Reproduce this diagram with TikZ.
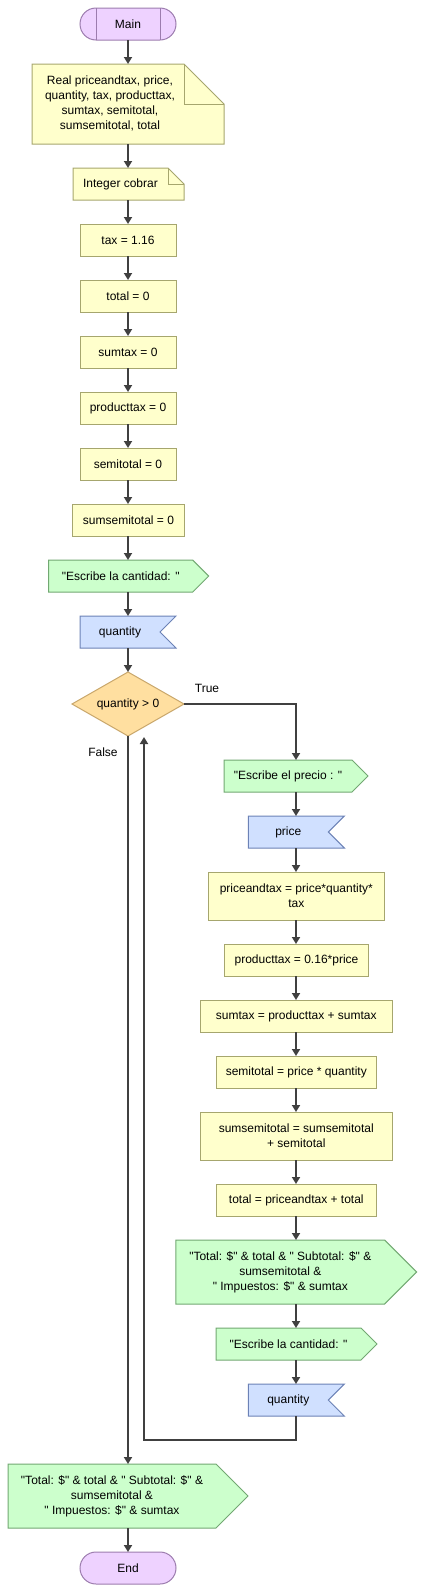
\documentclass[tikz,border=0pt]{standalone}
\usepackage{fontspec}
\setmainfont{Liberation Sans}[Ligatures=TeXOff]
\usetikzlibrary{shapes.geometric,arrows.meta}
\pgfdeclarelayer{bg}
\pgfsetlayers{bg,main}
\definecolor{termfill}{HTML}{EED2FF}
\definecolor{termdraw}{HTML}{9C7CAE}
\definecolor{procfill}{HTML}{FFFFCC}
\definecolor{procdraw}{HTML}{A6A66E}
\definecolor{outfill}{HTML}{CCFFCC}
\definecolor{outdraw}{HTML}{72A872}
\definecolor{infill}{HTML}{D0E0FF}
\definecolor{indraw}{HTML}{6C82B6}
\definecolor{decfill}{HTML}{FFDFA0}
\definecolor{decdraw}{HTML}{C8A66A}
\definecolor{linecol}{HTML}{404040}
\begin{document}
\begin{tikzpicture}[x=1pt,y=-1pt,
  every node/.style={font=\fontsize{12}{15}\selectfont, inner sep=0pt, outer sep=0pt, align=center},
  term/.style={draw=termdraw, fill=termfill, line width=1pt, rounded corners=16pt, minimum width=96pt, minimum height=32pt},
  proc/.style={draw=procdraw, fill=procfill, line width=1pt, minimum height=32pt},
  blank/.style={minimum height=32pt},
  decis/.style={diamond, draw=decdraw, fill=decfill, line width=1pt, minimum width=112pt, minimum height=64pt, aspect=1.75},
  notefill/.style={draw=procdraw, fill=procfill, line width=1pt, line join=miter},
  outshape/.style={draw=outdraw, fill=outfill, line width=1pt},
  inshape/.style={draw=indraw, fill=infill, line width=1pt},
  flow/.style={draw=linecol, line width=2.2pt, -{Triangle[width=8pt,length=7pt]}},
  lbl/.style={text=black}
]
\useasboundingbox (0,0) rectangle (425,1593);

% left column
\node[term] (main) at (128,24) {Main};
\node[blank, minimum width=192pt, minimum height=80pt] (real) at (128,104)
  {\begin{tabular}{@{}c@{}}Real priceandtax, price,\\ quantity, tax, producttax,\\ sumtax, semitotal,\\ sumsemitotal, total\end{tabular}\hspace*{36pt}};
\node[blank, minimum width=111pt] (integ) at (128.5,184) {Integer cobrar\hspace*{16pt}};
\node[proc, minimum width=96pt] (tax) at (128,240) {tax = 1.16};
\node[proc, minimum width=96pt] (tot0) at (128,296) {total = 0};
\node[proc, minimum width=96pt] (sumt0) at (128,352) {sumtax = 0};
\node[proc, minimum width=96pt] (prod0) at (128,408) {producttax = 0};
\node[proc, minimum width=96pt] (semi0) at (128,464) {semitotal = 0};
\node[proc, minimum width=112pt] (ssemi0) at (128.5,520) {sumsemitotal = 0};
\node[blank, minimum width=160pt] (out1) at (128.7,576) {"Escribe la cantidad: "\hspace*{16pt}};
\node[blank, minimum width=96pt] (in1) at (128,632) {quantity\hspace*{16pt}};
\node[decis] (dec) at (128,704) {quantity > 0};
\node[lbl] (truel) at (207,688) {True};
\node[lbl] (falsel) at (103,752) {False};

% right column
\node[blank, minimum width=144pt] (out2) at (296,776) {"Escribe el precio : "\hspace*{16pt}};
\node[blank, minimum width=96pt] (in2) at (296.3,832) {price\hspace*{16pt}};
\node[proc, minimum width=176pt, minimum height=48pt] (p1) at (296.3,896) {priceandtax = price*quantity*\\tax};
\node[proc, minimum width=144pt] (p2) at (296.5,960) {producttax = 0.16*price};
\node[proc, minimum width=192pt] (p3) at (296.3,1016) {sumtax = producttax + sumtax};
\node[proc, minimum width=160pt] (p4) at (296.3,1072) {semitotal = price * quantity};
\node[proc, minimum width=192pt, minimum height=48pt] (p5) at (296.3,1136) {sumsemitotal = sumsemitotal\\ + semitotal};
\node[proc, minimum width=160pt] (p6) at (296.3,1200) {total = priceandtax + total};
\node[blank, minimum width=240.7pt, minimum height=64pt] (out3) at (296.3,1272)
  {\begin{tabular}{@{}c@{}}"Total: \$" \& total \& " Subtotal: \$" \&\\ sumsemitotal \&\\ " Impuestos: \$" \& sumtax\end{tabular}\hspace*{32pt}};
\node[blank, minimum width=161pt] (out4) at (296.5,1344) {"Escribe la cantidad: "\hspace*{16pt}};
\node[blank, minimum width=96pt] (in3) at (296.3,1400) {quantity\hspace*{16pt}};

% bottom
\node[blank, minimum width=240pt, minimum height=64pt] (out5) at (128,1496)
  {\begin{tabular}{@{}c@{}}"Total: \$" \& total \& " Subtotal: \$" \&\\ sumsemitotal \&\\ " Impuestos: \$" \& sumtax\end{tabular}\hspace*{32pt}};
\node[term] (endn) at (128,1568) {End};

\coordinate (tcorner) at (296,704);
\coordinate (lb1) at (296,1440);
\coordinate (lb2) at (144,1440);
\coordinate (lbend) at (144,737);

% shapes on background
\begin{pgfonlayer}{bg}
  \path[notefill] (real.north west) -- ([xshift=-40pt]real.north east) -- ([yshift=-40pt]real.north east) -- (real.south east) -- (real.south west) -- cycle;
  \draw[draw=procdraw, line width=1pt] ([xshift=-40pt]real.north east) -- ([xshift=-40pt,yshift=-40pt]real.north east) -- ([yshift=-40pt]real.north east);
  \path[notefill] (integ.north west) -- ([xshift=-16pt]integ.north east) -- ([yshift=-16pt]integ.north east) -- (integ.south east) -- (integ.south west) -- cycle;
  \draw[draw=procdraw, line width=1pt] ([xshift=-16pt]integ.north east) -- ([xshift=-16pt,yshift=-16pt]integ.north east) -- ([yshift=-16pt]integ.north east);
  \foreach \n/\p in {out1/16, out2/16, out4/16, out3/32, out5/32} {
    \path[outshape] (\n.north west) -- ([xshift=-\p pt]\n.north east) -- (\n.east) -- ([xshift=-\p pt]\n.south east) -- (\n.south west) -- cycle;
  }
  \foreach \n in {in1, in2, in3} {
    \path[inshape] (\n.north west) -- (\n.north east) -- ([xshift=-16pt]\n.east) -- (\n.south east) -- (\n.south west) -- cycle;
  }
\end{pgfonlayer}
\draw[draw=termdraw, line width=1pt] ([xshift=-32pt]main.north) -- ([xshift=-32pt]main.south);
\draw[draw=termdraw, line width=1pt] ([xshift=32pt]main.north) -- ([xshift=32pt]main.south);

% connectors
\draw[flow] (main) -- (real);
\draw[flow] (real) -- (integ.north -| real.south);
\draw[flow] (integ.south -| tax.north) -- (tax);
\draw[flow] (tax) -- (tot0);
\draw[flow] (tot0) -- (sumt0);
\draw[flow] (sumt0) -- (prod0);
\draw[flow] (prod0) -- (semi0);
\draw[flow] (semi0) -- (ssemi0.north -| semi0.south);
\draw[flow] (ssemi0.south -| semi0.south) -- (out1.north -| semi0.south);
\draw[flow] (out1.south -| in1.north) -- (in1);
\draw[flow] (in1) -- (dec);
\draw[flow] (dec.east) -- (tcorner) -- (out2.north -| tcorner);
\draw[flow] (out2.south -| tcorner) -- (in2.north -| tcorner);
\draw[flow] (in2.south -| tcorner) -- (p1.north -| tcorner);
\draw[flow] (p1.south -| tcorner) -- (p2.north -| tcorner);
\draw[flow] (p2.south -| tcorner) -- (p3.north -| tcorner);
\draw[flow] (p3.south -| tcorner) -- (p4.north -| tcorner);
\draw[flow] (p4.south -| tcorner) -- (p5.north -| tcorner);
\draw[flow] (p5.south -| tcorner) -- (p6.north -| tcorner);
\draw[flow] (p6.south -| tcorner) -- (out3.north -| tcorner);
\draw[flow] (out3.south -| tcorner) -- (out4.north -| tcorner);
\draw[flow] (out4.south -| tcorner) -- (in3.north -| tcorner);
\draw[flow] (in3.south -| tcorner) -- (lb1) -- (lb2) -- (lbend);
\draw[flow] (dec.south) -- (out5.north);
\draw[flow] (out5) -- (endn);
\end{tikzpicture}
\end{document}
